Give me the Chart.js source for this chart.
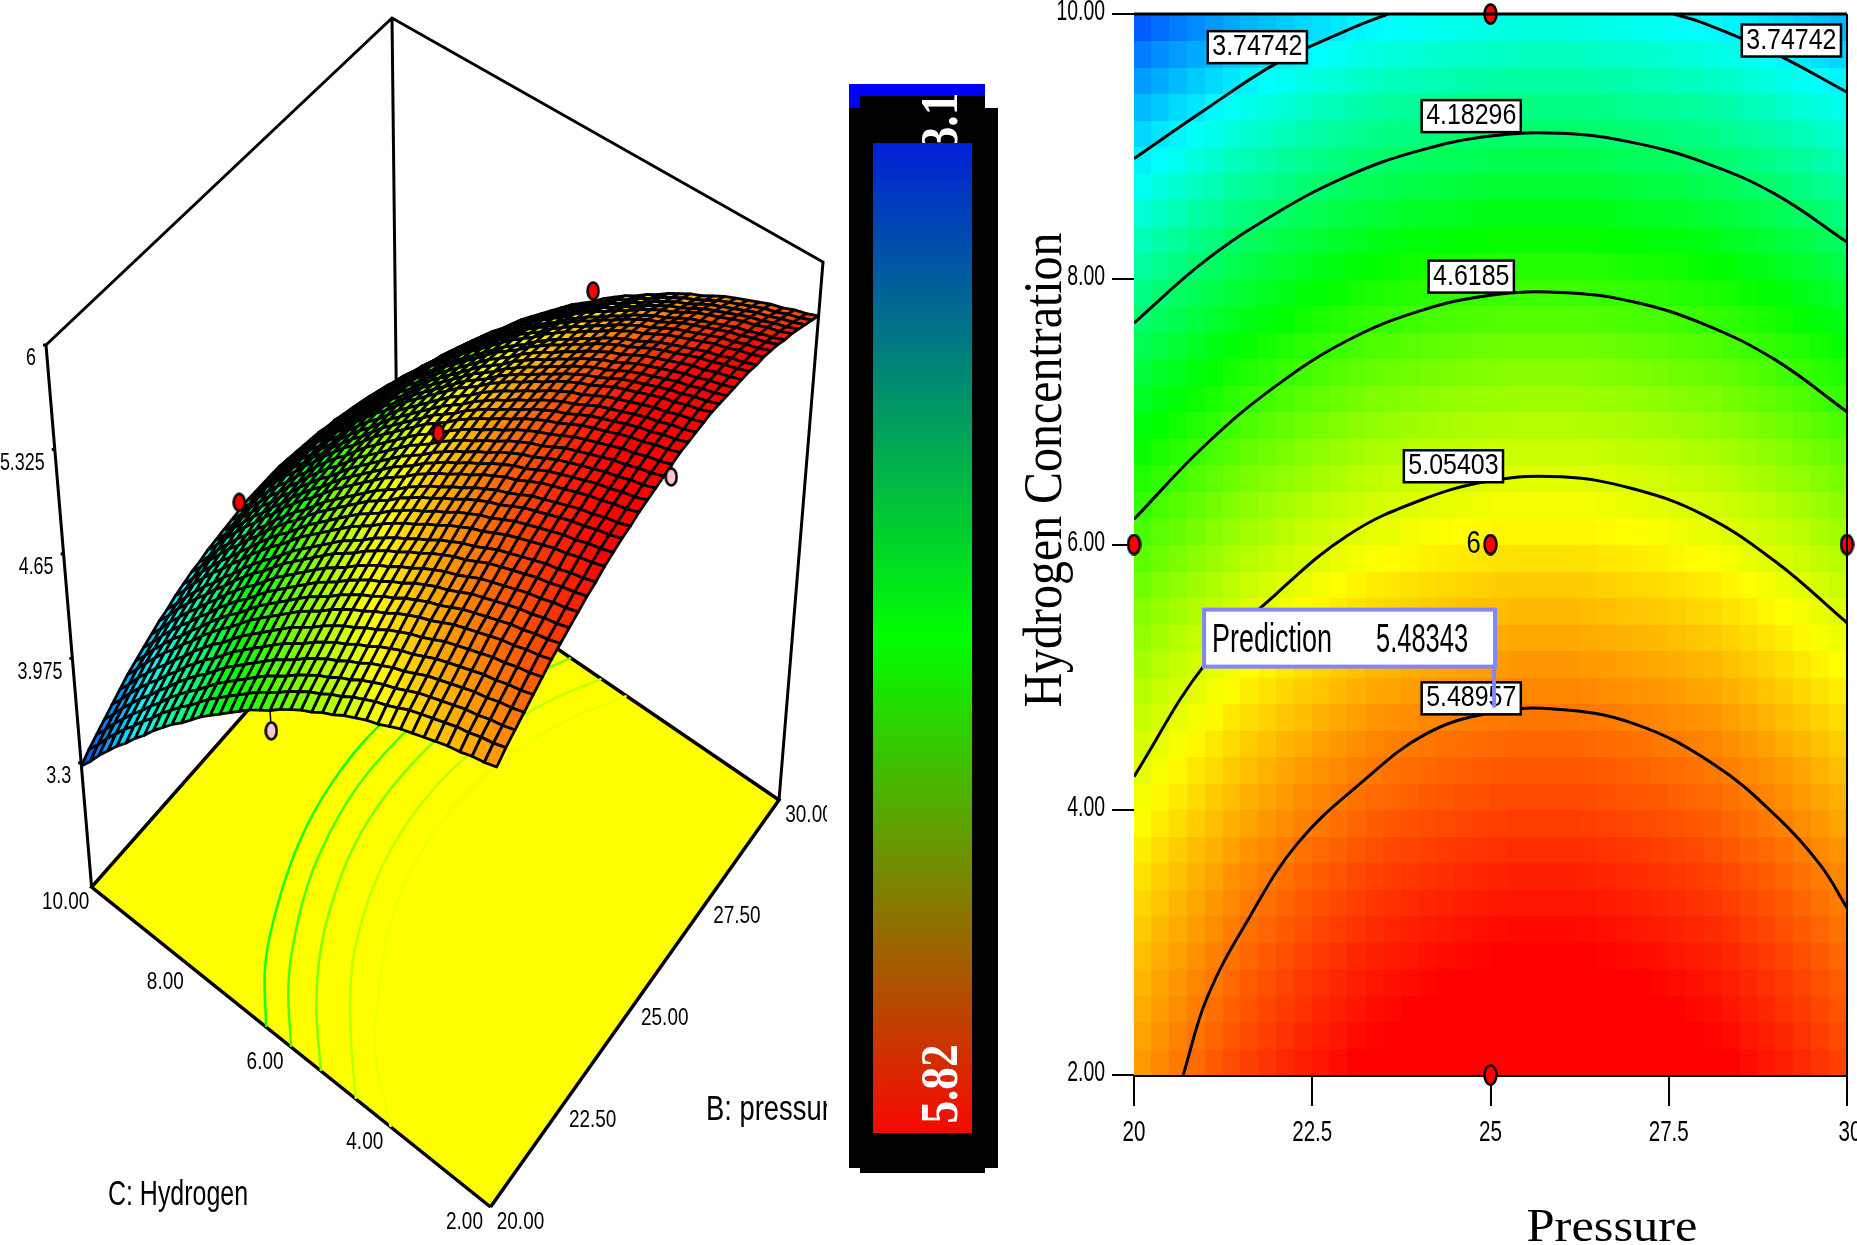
<!DOCTYPE html>
<html lang="en">
<head>
  <meta charset="UTF-8">
  <title>Response surface and contour</title>
  <script src="https://cdn.jsdelivr.net/npm/chart.js"></script>
  <style>
    body { margin: 0; background: #fff; overflow: hidden; }
    canvas { position: absolute; top: 0; }
    #surface { left: 0; }
    #bar { left: 849px; top: 84px; }
    #contour { left: 1020px; }
  </style>
</head>
<body>
  <canvas id="surface" width="827" height="1245"></canvas>
  <canvas id="bar" width="149" height="1089"></canvas>
  <canvas id="contour" width="837" height="1245"></canvas>

  <script>
    // response x100, rows hydrogen 2 -> 10 (step 0.2), columns pressure 20 -> 30 (step 0.25)
    const responseTable = [
      [540,545,549,553,557,561,565,568,571,574,577,579,582,584,586,587,589,590,591,592,593,594,594,594,594,594,593,592,591,590,589,587,586,584,582,579,577,574,571,568,565],
      [537,542,546,550,554,558,562,565,568,571,574,576,579,581,583,584,586,587,588,589,590,591,591,591,591,591,590,589,588,587,586,584,583,581,579,576,574,571,568,565,562],
      [535,540,544,548,552,556,560,563,566,569,572,574,577,579,581,582,584,585,586,587,588,589,589,589,589,589,588,587,586,585,584,582,581,579,577,574,572,569,566,563,560],
      [532,537,541,545,549,553,557,560,563,566,569,571,574,576,578,579,581,582,583,584,585,586,586,586,586,586,585,584,583,582,581,579,578,576,574,571,569,566,563,560,557],
      [530,535,539,543,547,551,555,558,561,564,567,569,572,574,576,577,579,580,581,582,583,584,584,584,584,584,583,582,581,580,579,577,576,574,572,569,567,564,561,558,555],
      [527,532,536,540,544,548,552,555,558,561,564,566,569,571,573,574,576,577,578,579,580,581,581,581,581,581,580,579,578,577,576,574,573,571,569,566,564,561,558,555,552],
      [524,529,533,537,541,545,549,552,555,558,561,563,566,568,570,571,573,574,575,576,577,578,578,578,578,578,577,576,575,574,573,571,570,568,566,563,561,558,555,552,549],
      [521,526,530,534,538,542,546,549,552,555,558,560,563,565,567,568,570,571,572,573,574,575,575,575,575,575,574,573,572,571,570,568,567,565,563,560,558,555,552,549,546],
      [518,523,527,531,535,539,543,546,549,552,555,557,560,562,564,565,567,568,569,570,571,572,572,572,572,572,571,570,569,568,567,565,564,562,560,557,555,552,549,546,543],
      [514,519,523,527,531,535,539,542,545,548,551,553,556,558,560,561,563,564,565,566,567,568,568,568,568,568,567,566,565,564,563,561,560,558,556,553,551,548,545,542,539],
      [510,515,519,523,527,531,535,538,541,544,547,549,552,554,556,557,559,560,561,562,563,564,564,564,564,564,563,562,561,560,559,557,556,554,552,549,547,544,541,538,535],
      [507,512,516,520,524,528,532,535,538,541,544,546,549,551,553,554,556,557,558,559,560,561,561,561,561,561,560,559,558,557,556,554,553,551,549,546,544,541,538,535,532],
      [503,508,512,516,520,524,528,531,534,537,540,542,545,547,549,550,552,553,554,555,556,557,557,557,557,557,556,555,554,553,552,550,549,547,545,542,540,537,534,531,528],
      [499,504,508,512,516,520,524,527,530,533,536,538,541,543,545,546,548,549,550,551,552,553,553,553,553,553,552,551,550,549,548,546,545,543,541,538,536,533,530,527,524],
      [494,499,503,507,511,515,519,522,525,528,531,533,536,538,540,541,543,544,545,546,547,548,548,548,548,548,547,546,545,544,543,541,540,538,536,533,531,528,525,522,519],
      [490,495,499,503,507,511,515,518,521,524,527,529,532,534,536,537,539,540,541,542,543,544,544,544,544,544,543,542,541,540,539,537,536,534,532,529,527,524,521,518,515],
      [485,490,494,498,502,506,510,513,516,519,522,524,527,529,531,532,534,535,536,537,538,539,539,539,539,539,538,537,536,535,534,532,531,529,527,524,522,519,516,513,510],
      [481,486,490,494,498,502,506,509,512,515,518,520,523,525,527,528,530,531,532,533,534,535,535,535,535,535,534,533,532,531,530,528,527,525,523,520,518,515,512,509,506],
      [476,481,485,489,493,497,501,504,507,510,513,515,518,520,522,523,525,526,527,528,529,530,530,530,530,530,529,528,527,526,525,523,522,520,518,515,513,510,507,504,501],
      [471,476,480,484,488,492,496,499,502,505,508,510,513,515,517,518,520,521,522,523,524,525,525,525,525,525,524,523,522,521,520,518,517,515,513,510,508,505,502,499,496],
      [465,470,474,478,482,486,490,493,496,499,502,504,507,509,511,512,514,515,516,517,518,519,519,519,519,519,518,517,516,515,514,512,511,509,507,504,502,499,496,493,490],
      [460,465,469,473,477,481,485,488,491,494,497,499,502,504,506,507,509,510,511,512,513,514,514,514,514,514,513,512,511,510,509,507,506,504,502,499,497,494,491,488,485],
      [455,460,464,468,472,476,480,483,486,489,492,494,497,499,501,502,504,505,506,507,508,509,509,509,509,509,508,507,506,505,504,502,501,499,497,494,492,489,486,483,480],
      [449,454,458,462,466,470,474,477,480,483,486,488,491,493,495,496,498,499,500,501,502,503,503,503,503,503,502,501,500,499,498,496,495,493,491,488,486,483,480,477,474],
      [443,448,452,456,460,464,468,471,474,477,480,482,485,487,489,490,492,493,494,495,496,497,497,497,497,497,496,495,494,493,492,490,489,487,485,482,480,477,474,471,468],
      [437,442,446,450,454,458,462,465,468,471,474,476,479,481,483,484,486,487,488,489,490,491,491,491,491,491,490,489,488,487,486,484,483,481,479,476,474,471,468,465,462],
      [431,436,440,444,448,452,456,459,462,465,468,470,473,475,477,478,480,481,482,483,484,485,485,485,485,485,484,483,482,481,480,478,477,475,473,470,468,465,462,459,456],
      [425,430,434,438,442,446,450,453,456,459,462,464,467,469,471,472,474,475,476,477,478,479,479,479,479,479,478,477,476,475,474,472,471,469,467,464,462,459,456,453,450],
      [418,423,427,431,435,439,443,446,449,452,455,457,460,462,464,465,467,468,469,470,471,472,472,472,472,472,471,470,469,468,467,465,464,462,460,457,455,452,449,446,443],
      [411,416,420,424,428,432,436,439,442,445,448,450,453,455,457,458,460,461,462,463,464,465,465,465,465,465,464,463,462,461,460,458,457,455,453,450,448,445,442,439,436],
      [405,410,414,418,422,426,430,433,436,439,442,444,447,449,451,452,454,455,456,457,458,459,459,459,459,459,458,457,456,455,454,452,451,449,447,444,442,439,436,433,430],
      [398,403,407,411,415,419,423,426,429,432,435,437,440,442,444,445,447,448,449,450,451,452,452,452,452,452,451,450,449,448,447,445,444,442,440,437,435,432,429,426,423],
      [391,396,400,404,408,412,416,419,422,425,428,430,433,435,437,438,440,441,442,443,444,445,445,445,445,445,444,443,442,441,440,438,437,435,433,430,428,425,422,419,416],
      [383,388,392,396,400,404,408,411,414,417,420,422,425,427,429,430,432,433,434,435,436,437,437,437,437,437,436,435,434,433,432,430,429,427,425,422,420,417,414,411,408],
      [376,381,385,389,393,397,401,404,407,410,413,415,418,420,422,423,425,426,427,428,429,430,430,430,430,430,429,428,427,426,425,423,422,420,418,415,413,410,407,404,401],
      [368,373,377,381,385,389,393,396,399,402,405,407,410,412,414,415,417,418,419,420,421,422,422,422,422,422,421,420,419,418,417,415,414,412,410,407,405,402,399,396,393],
      [361,366,370,374,378,382,386,389,392,395,398,400,403,405,407,408,410,411,412,413,414,415,415,415,415,415,414,413,412,411,410,408,407,405,403,400,398,395,392,389,386],
      [353,358,362,366,370,374,378,381,384,387,390,392,395,397,399,400,402,403,404,405,406,407,407,407,407,407,406,405,404,403,402,400,399,397,395,392,390,387,384,381,378],
      [345,350,354,358,362,366,370,373,376,379,382,384,387,389,391,392,394,395,396,397,398,399,399,399,399,399,398,397,396,395,394,392,391,389,387,384,382,379,376,373,370],
      [336,341,345,349,353,357,361,364,367,370,373,375,378,380,382,383,385,386,387,388,389,390,390,390,390,390,389,388,387,386,385,383,382,380,378,375,373,370,367,364,361],
      [328,333,337,341,345,349,353,356,359,362,365,367,370,372,374,375,377,378,379,380,381,382,382,382,382,382,381,380,379,378,377,375,374,372,370,367,365,362,359,356,353]
    ];

    // contour lines
    const contourPressure = [20, 21, 22, 23, 24, 25, 26, 27, 28, 29, 30];
    const contour4183 = [7.67, 8.14, 8.5, 8.78, 8.97, 9.08, 9.1, 9.03, 8.88, 8.64, 8.28];
    const contour4618 = [6.19, 6.75, 7.2, 7.54, 7.76, 7.88, 7.9, 7.83, 7.66, 7.39, 7.0];
    const contour5054 = [4.25, 5.1, 5.63, 6.07, 6.33, 6.48, 6.51, 6.42, 6.22, 5.87, 5.41];
    const contour5490P = [20.69, 21.03, 21.62, 22.3, 23.2, 24.09, 24.99, 25.89, 27.01, 28.14, 29.03, 29.63, 30];
    const contour5490 = [2, 2.59, 3.19, 3.75, 4.21, 4.57, 4.73, 4.76, 4.65, 4.34, 3.94, 3.58, 3.26];
    const contour3747LeftP = [20, 21, 22, 23, 23.56];
    const contour3747Left = [8.91, 9.28, 9.63, 9.88, 10];
    const contour3747RightP = [27.57, 28, 29, 30];
    const contour3747Right = [10, 9.93, 9.7, 9.41];

    const labelTexts = ['3.74742', '3.74742', '4.18296', '4.6185', '5.05403', '5.48957'];
    const labelPressure = [21.73, 29.22, 24.73, 24.73, 24.48, 24.73];
    const labelHydrogen = [9.75, 9.8, 9.23, 8.02, 6.59, 4.84];

    // design points
    const designPressure = [25, 20, 25, 30, 25];
    const designHydrogen = [10, 6, 6, 6, 2];
    const designResponse = [3.86, 4.52, 5.18, 4.97, 5.85];
    const designAbove = [true, false, true, true, false];

    // contours projected on the floor of the 3D box
    const floorLevels = [4.52, 4.65, 4.8, 4.97, 5.1];
    const floorPressure = [20, 21, 22, 23, 24, 25, 26, 27, 28, 29, 30];
    const floorHydrogen = [
      [6.5, 7.12, 7.52, 7.83, 8.05, 8.17, 8.2, 8.12, 7.95, 7.69, 7.32],
      [6.0, 6.65, 7.1, 7.44, 7.66, 7.79, 7.81, 7.74, 7.57, 7.29, 6.89],
      [5.4, 6.09, 6.6, 6.95, 7.2, 7.33, 7.35, 7.28, 7.09, 6.8, 6.37],
      [4.7, 5.4, 5.98, 6.37, 6.63, 6.77, 6.8, 6.72, 6.52, 6.2, 5.73],
      [4.0, 4.9, 5.43, 5.87, 6.17, 6.32, 6.35, 6.26, 6.05, 5.7, 5.2]
    ];

    const pressureTicks = [20, 22.5, 25, 27.5, 30];
    const pressureTickLabels = ['20', '22.5', '25', '27.5', '30'];
    const pressureBoxLabels = ['20.00', '22.50', '25.00', '27.50', '30.00'];
    const hydrogenTicks = [2, 4, 6, 8, 10];
    const hydrogenTickLabels = ['2.00', '4.00', '6.00', '8.00', '10.00'];
    const zTicks = [3.3, 3.975, 4.65, 5.325, 6];
    const zTickLabels = ['3.3', '3.975', '4.65', '5.325', '6'];

    const predictionPoint = [25.05, 4.77];
    const predictionValue = '5.48343';
    const barMin = 3.1;
    const barMax = 5.82;

    const SANS = '"Liberation Sans", Arial, sans-serif';
    const SERIF = '"Liberation Serif", "Times New Roman", serif';

    // the original image is squashed sideways, so text gets an x scale
    function squeezed(ctx, text, x, y, o) {
      ctx.save();
      ctx.font = o.font;
      ctx.translate(x, y);
      ctx.rotate(o.rot || 0);
      const sx = o.width ? o.width / ctx.measureText(text).width : (o.sx || 1);
      ctx.scale(sx, 1);
      ctx.textAlign = o.align || 'center';
      ctx.textBaseline = 'middle';
      ctx.fillStyle = o.color || '#000';
      ctx.fillText(text, 0, 0);
      ctx.restore();
    }

    function heatColor(z) {
      const t = Math.max(0, Math.min(1, (z - 3.1) / (5.82 - 3.1))) * 4;
      const k = Math.min(3, Math.floor(t));
      const f = t - k;
      const v = Math.round(255 * f);
      if (k === 0) return `rgb(0,${v},255)`;
      if (k === 1) return `rgb(0,255,${255 - v})`;
      if (k === 2) return `rgb(${v},255,0)`;
      return `rgb(255,${255 - v},0)`;
    }

    function dotImage(fill, w, h) {
      const c = document.createElement('canvas');
      c.width = w;
      c.height = h;
      const g = c.getContext('2d');
      g.beginPath();
      g.ellipse(w / 2, h / 2, w / 2 - 1.5, h / 2 - 1.5, 0, 0, Math.PI * 2);
      g.fillStyle = fill;
      g.fill();
      g.lineWidth = 2.5;
      g.strokeStyle = '#000';
      g.stroke();
      return c;
    }

    // ---------- 3D panel: view plane in page pixels, hidden linear scales ----------
    // top of the box has perspective, the floor ticks sit almost evenly
    function quadMap(a, b, c, d) {
      const dx1 = b[0] - c[0], dy1 = b[1] - c[1], dx2 = d[0] - c[0], dy2 = d[1] - c[1];
      const sx = a[0] - b[0] + c[0] - d[0], sy = a[1] - b[1] + c[1] - d[1];
      const det = dx1 * dy2 - dy1 * dx2;
      const g = (sx * dy2 - sy * dx2) / det, h = (dx1 * sy - dy1 * sx) / det;
      return (u, v) => {
        const w = g * u + h * v + 1;
        return [
          ((b[0] * (1 + g) - a[0]) * u + (d[0] * (1 + h) - a[0]) * v + a[0]) / w,
          ((b[1] * (1 + g) - a[1]) * u + (d[1] * (1 + h) - a[1]) * v + a[1]) / w
        ];
      };
    }
    function bilinearMap(a, b, c, d) {
      return (u, v) => [0, 1].map(k =>
        (1 - v) * ((1 - u) * a[k] + u * b[k]) + v * ((1 - u) * d[k] + u * c[k]));
    }
    const floorMap = bilinearMap([490.5, 1207], [779, 800], [398, 540], [91.6, 887]);
    const ceilMap = quadMap([498, 676], [823, 262], [392, 18], [46, 345]);

    function project(p, h, z) {
      const u = (p - 20) / 10, v = (h - 2) / 8;
      const f = floorMap(u, v), c = ceilMap(u, v);
      const w = z === null ? 0 : 0.229 + (z - 3.3) / 2.7 * 0.771;
      return { x: f[0] + (c[0] - f[0]) * w, y: f[1] + (c[1] - f[1]) * w };
    }
    const ceilPoint = (p, h) => { const c = ceilMap((p - 20) / 10, (h - 2) / 8); return { x: c[0], y: c[1] }; };
    const gridValue = (i, j) => responseTable[j][i] / 100;
    const gridP = i => 20 + i * 0.25;
    const gridH = j => 2 + j * 0.2;

    const meshPoints = [];
    responseTable.forEach((row, j) => row.forEach((v, i) => meshPoints.push(project(gridP(i), gridH(j), v / 100))));

    const stemPoints = [];
    designPressure.forEach((p, k) => {
      const i = Math.round((p - 20) / 0.25), j = Math.round((designHydrogen[k] - 2) / 0.2);
      stemPoints.push(project(p, designHydrogen[k], gridValue(i, j)));
      stemPoints.push(project(p, designHydrogen[k], designResponse[k]));
      stemPoints.push({ x: NaN, y: NaN });
    });

    const boxEdges = [
      project(20, 10, null), ceilPoint(20, 10), ceilPoint(30, 10), ceilPoint(30, 2), project(30, 2, null),
      { x: NaN, y: NaN }, ceilPoint(30, 10), project(30, 10, null)
    ];
    const floorOutline = [[20, 2], [30, 2], [30, 10], [20, 10], [20, 2]].map(c => project(c[0], c[1], null));
    const SURFACE_INDEX = 2;

    const surfacePlugin = {
      id: 'surfaceMesh',
      afterDatasetDraw(chart, args) {
        if (args.index !== SURFACE_INDEX) return;
        const { ctx, scales: { x, y } } = chart;
        const n = responseTable[0].length;
        const at = (i, j) => {
          const m = meshPoints[j * n + i];
          return [x.getPixelForValue(m.x), y.getPixelForValue(m.y)];
        };
        ctx.save();
        ctx.lineWidth = 2.8;
        ctx.strokeStyle = '#000';
        ctx.lineJoin = 'round';
        // back corner first (pressure 30, hydrogen 10)
        for (let i = n - 2; i >= 0; i--) {
          for (let j = responseTable.length - 2; j >= 0; j--) {
            const z = (gridValue(i, j) + gridValue(i + 1, j) + gridValue(i, j + 1) + gridValue(i + 1, j + 1)) / 4;
            const q = [at(i, j), at(i + 1, j), at(i + 1, j + 1), at(i, j + 1)];
            ctx.beginPath();
            ctx.moveTo(q[0][0], q[0][1]);
            for (let k = 1; k < 4; k++) ctx.lineTo(q[k][0], q[k][1]);
            ctx.closePath();
            ctx.fillStyle = heatColor(z);
            ctx.fill();
            ctx.stroke();
          }
        }
        ctx.restore();
      },
      afterDatasetsDraw(chart) {
        const { ctx, scales: { x, y } } = chart;
        ctx.fillStyle = '#000';
        zTicks.forEach((z, k) => {
          const p = project(20, 10, z);
          const px = x.getPixelForValue(p.x), py = y.getPixelForValue(p.y);
          ctx.fillRect(px - 3, py - 1.5, 4, 3);
          squeezed(ctx, zTickLabels[k], px - 10, py + 14, { font: '23px ' + SANS, sx: 0.78, align: 'right' });
        });
        hydrogenTicks.forEach((h, k) => {
          const p = project(20, h, null);
          squeezed(ctx, hydrogenTickLabels[k], x.getPixelForValue(p.x) - 26, y.getPixelForValue(p.y) + 15, { font: '24px ' + SANS, sx: 0.79 });
        });
        pressureTicks.forEach((v, k) => {
          const p = project(v, 2, null);
          squeezed(ctx, pressureBoxLabels[k], x.getPixelForValue(p.x) + 30, y.getPixelForValue(p.y) + 15, { font: '24px ' + SANS, sx: 0.79 });
        });
        squeezed(ctx, 'C: Hydrogen', 178, 1195, { font: '35px ' + SANS, width: 140 });
        squeezed(ctx, 'B: pressure', 706, 1110, { font: '35px ' + SANS, width: 140, align: 'left' });
      }
    };

    const lineOpts = { showLine: true, pointRadius: 0, tension: 0 };
    new Chart(document.getElementById('surface'), {
      type: 'scatter',
      data: {
        datasets: [
          {
            label: 'Design points',
            data: designPressure.map((p, k) => project(p, designHydrogen[k], designResponse[k])),
            pointStyle: designAbove.map(a => dotImage(a ? '#ff0000' : '#ffc4cc', 14, 20)),
            pointRadius: 7,
            clip: false
          },
          { label: 'Stems', data: stemPoints, ...lineOpts, borderColor: '#000', borderWidth: 1.5, spanGaps: false },
          { label: 'Surface', data: meshPoints, pointRadius: 0 },
          { label: 'Box', data: boxEdges, ...lineOpts, borderColor: '#000', borderWidth: 3, spanGaps: false },
          ...floorHydrogen.map((row, k) => ({
            label: 'Floor contour ' + floorLevels[k],
            data: row.map((h, i) => project(floorPressure[i], h, null)),
            ...lineOpts,
            tension: 0.4,
            borderColor: heatColor(floorLevels[k]),
            borderWidth: 2.5
          })),
          {
            label: 'Floor',
            data: floorOutline,
            ...lineOpts,
            fill: 'shape',
            backgroundColor: '#ffff00',
            borderColor: '#000',
            borderWidth: 3.5
          }
        ]
      },
      options: {
        responsive: false,
        animation: false,
        layout: { padding: 0, autoPadding: false },
        plugins: { legend: { display: false }, tooltip: { enabled: false } },
        scales: {
          x: { type: 'linear', display: false, min: 0, max: 827 },
          y: { type: 'linear', display: false, min: 0, max: 1245, reverse: true }
        }
      },
      plugins: [surfacePlugin]
    });

    // ---------- colour bar ----------
    const barFrame = {
      id: 'barFrame',
      beforeDatasetsDraw(chart) {
        const ctx = chart.ctx;
        ctx.fillStyle = '#0000ff';
        ctx.fillRect(0, 0, 136, 12);
        ctx.fillRect(0, 12, 11, 12);
        ctx.fillStyle = '#000';
        ctx.fillRect(11, 12, 125, 12);
        ctx.fillRect(0, 24, 149, 1060);
        ctx.fillRect(11, 1084, 125, 5);
        squeezed(ctx, String(barMin), 95, 37, { font: 'bold 52px ' + SERIF, sx: 0.87, rot: -Math.PI / 2, color: '#fff' });
      },
      afterDatasetsDraw(chart) {
        squeezed(chart.ctx, String(barMax), 95, 1000, { font: 'bold 52px ' + SERIF, width: 79, rot: -Math.PI / 2, color: '#fff' });
      }
    };
    new Chart(document.getElementById('bar'), {
      type: 'bar',
      data: {
        labels: ['Response'],
        datasets: [{
          data: [[barMin, barMax]],
          barPercentage: 1,
          categoryPercentage: 1,
          borderSkipped: false,
          backgroundColor(c) {
            const area = c.chart.chartArea;
            if (!area) return '#000';
            const g = c.chart.ctx.createLinearGradient(0, area.top, 0, area.bottom);
            g.addColorStop(0, '#0020d8');
            g.addColorStop(0.5, '#00ff00');
            g.addColorStop(1, '#f80800');
            return g;
          }
        }]
      },
      options: {
        responsive: false,
        animation: false,
        layout: { padding: { left: 24, right: 26, top: 59, bottom: 40 }, autoPadding: false },
        plugins: { legend: { display: false }, tooltip: { enabled: false } },
        scales: {
          x: { display: false },
          y: { display: false, min: barMin, max: barMax, reverse: true }
        }
      },
      plugins: [barFrame]
    });

    // ---------- contour panel ----------
    const heatPlugin = {
      id: 'heat',
      beforeDatasetsDraw(chart) {
        const { ctx, scales: { x, y } } = chart;
        for (let j = 0; j < responseTable.length - 1; j++) {
          for (let i = 0; i < responseTable[0].length - 1; i++) {
            const z = (gridValue(i, j) + gridValue(i + 1, j) + gridValue(i, j + 1) + gridValue(i + 1, j + 1)) / 4;
            const x0 = Math.floor(x.getPixelForValue(gridP(i))), x1 = Math.ceil(x.getPixelForValue(gridP(i + 1)));
            const y1 = Math.ceil(y.getPixelForValue(gridH(j))), y0 = Math.floor(y.getPixelForValue(gridH(j + 1)));
            ctx.fillStyle = heatColor(z);
            ctx.fillRect(x0, y0, x1 - x0, y1 - y0);
          }
        }
      },
      afterDatasetsDraw(chart) {
        const { ctx, chartArea: a, scales: { x, y } } = chart;
        // frame
        ctx.fillStyle = '#000';
        ctx.fillRect(a.left, a.top - 1.5, a.right - a.left, 3);
        ctx.fillRect(a.right - 1, a.top, 2, a.bottom - a.top);

        x.ticks.forEach((t, k) => {
          squeezed(ctx, pressureTickLabels[k], x.getPixelForValue(t.value) + (k === 4 ? 3 : 0), 1133, { font: '29px ' + SANS, sx: 0.71 });
        });
        y.ticks.forEach((t, k) => {
          squeezed(ctx, hydrogenTickLabels[k], 85, y.getPixelForValue(t.value) - 2, { font: '29px ' + SANS, sx: 0.67, align: 'right' });
        });

        // contour labels
        labelTexts.forEach((txt, k) => {
          const cx = x.getPixelForValue(labelPressure[k]), cy = y.getPixelForValue(labelHydrogen[k]);
          ctx.font = '29px ' + SANS;
          const w = ctx.measureText(txt).width * 0.86 + 9;
          ctx.fillStyle = '#fff';
          ctx.fillRect(cx - w / 2, cy - 16, w, 32);
          ctx.strokeStyle = '#000';
          ctx.lineWidth = 2.5;
          ctx.strokeRect(cx - w / 2, cy - 16, w, 32);
          squeezed(ctx, txt, cx, cy, { font: '29px ' + SANS, sx: 0.86 });
        });

        squeezed(ctx, '6', x.getPixelForValue(25) - 17, y.getPixelForValue(6), { font: '32px ' + SANS, sx: 0.8 });

        // prediction flag
        const px = x.getPixelForValue(predictionPoint[0]), py = y.getPixelForValue(predictionPoint[1]);
        ctx.fillStyle = '#fff';
        ctx.fillRect(px - 290, py - 98, 291, 57);
        ctx.strokeStyle = '#8484ff';
        ctx.lineWidth = 4;
        ctx.strokeRect(px - 290, py - 98, 291, 57);
        ctx.beginPath();
        ctx.moveTo(px, py - 41);
        ctx.lineTo(px, py);
        ctx.stroke();
        squeezed(ctx, 'Prediction', px - 222, py - 67, { font: '40px ' + SANS, width: 120 });
        squeezed(ctx, predictionValue, px - 72, py - 67, { font: '40px ' + SANS, width: 92 });

        squeezed(ctx, 'Hydrogen Concentration', 27, 470, { font: '54px ' + SERIF, width: 475, rot: -Math.PI / 2 });
        squeezed(ctx, 'Pressure', 592, 1229, { font: '46px ' + SERIF, width: 171 });
      }
    };

    const toXY = (xs, ys) => xs.map((v, i) => ({ x: v, y: ys[i] }));
    const contourLine = (data) => ({
      data,
      showLine: true,
      pointRadius: 0,
      tension: 0.4,
      borderColor: '#000',
      borderWidth: 3
    });

    new Chart(document.getElementById('contour'), {
      type: 'scatter',
      data: {
        datasets: [
          {
            label: 'Design points',
            data: toXY(designPressure, designHydrogen),
            pointStyle: dotImage('#ff0000', 15, 22),
            pointRadius: 7,
            clip: false
          },
          contourLine(toXY(contour3747LeftP, contour3747Left)),
          contourLine(toXY(contour3747RightP, contour3747Right)),
          contourLine(toXY(contourPressure, contour4183)),
          contourLine(toXY(contourPressure, contour4618)),
          contourLine(toXY(contourPressure, contour5054)),
          contourLine(toXY(contour5490P, contour5490))
        ]
      },
      options: {
        responsive: false,
        animation: false,
        layout: { padding: { top: 14, right: 10, left: 0, bottom: 0 }, autoPadding: false },
        plugins: { legend: { display: false }, tooltip: { enabled: false } },
        scales: {
          x: {
            type: 'linear',
            min: 20,
            max: 30,
            afterBuildTicks(s) { s.ticks = pressureTicks.map(v => ({ value: v })); },
            afterFit(s) { s.height = 170; },
            ticks: { display: false },
            border: { color: '#000', width: 3 },
            grid: { drawOnChartArea: false, tickLength: 31, color: '#000', lineWidth: 2 }
          },
          y: {
            type: 'linear',
            min: 2,
            max: 10,
            afterBuildTicks(s) { s.ticks = hydrogenTicks.map(v => ({ value: v })); },
            afterFit(s) { s.width = 114; },
            ticks: { display: false },
            border: { color: '#000', width: 1 },
            grid: { drawOnChartArea: false, tickLength: 22, color: '#000', lineWidth: 2 }
          }
        }
      },
      plugins: [heatPlugin]
    });
  </script>
</body>
</html>
